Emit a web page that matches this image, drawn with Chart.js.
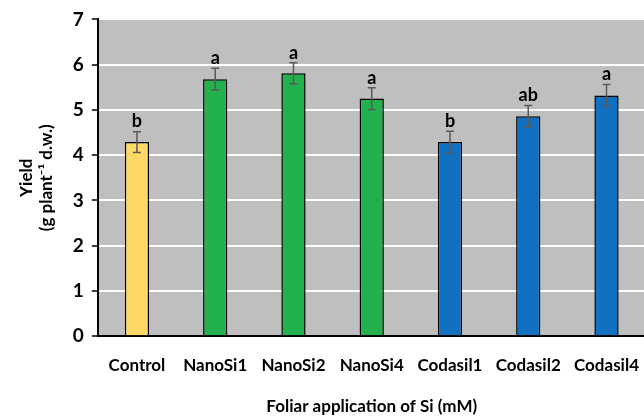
<!DOCTYPE html>
<html>
<head>
<meta charset="utf-8">
<script src="https://cdn.jsdelivr.net/npm/chart.js@4.4.0/dist/chart.umd.min.js"></script>
<style>
  html, body { margin: 0; padding: 0; background: #fff; overflow: hidden; }
  #wrap { width: 658px; height: 419px; }
</style>
</head>
<body>
<div id="wrap"><canvas id="chart"></canvas></div>
<script>
// data
const treatments = ['Control', 'NanoSi1', 'NanoSi2', 'NanoSi4', 'Codasil1', 'Codasil2', 'Codasil4'];
const yieldValues = [4.29, 5.68, 5.81, 5.25, 4.29, 4.86, 5.32];
const yieldErrors = [0.23, 0.24, 0.23, 0.24, 0.24, 0.24, 0.24];
const letters = ['b', 'a', 'a', 'a', 'b', 'ab', 'a'];
const barColors = ['#FFD966', '#22B14C', '#22B14C', '#22B14C', '#1170C0', '#1170C0', '#1170C0'];

const FONT = 'Lato, "Open Sans", sans-serif';

// gray plot background
const plotBg = {
    id: 'plotBg',
    beforeDraw(chart) {
        const { ctx, chartArea: a } = chart;
        ctx.save();
        ctx.fillStyle = '#BFBFBF';
        ctx.fillRect(a.left, a.top, a.right - a.left, a.bottom - a.top);
        ctx.restore();
    }
};

// error bars + significance letters
const errorBars = {
    id: 'errorBars',
    afterDatasetsDraw(chart) {
        const { ctx, scales } = chart;
        const meta = chart.getDatasetMeta(0);
        ctx.save();
        meta.data.forEach((bar, i) => {
            const x = bar.x;
            const yHi = scales.y.getPixelForValue(yieldValues[i] + yieldErrors[i]);
            const yLo = scales.y.getPixelForValue(yieldValues[i] - yieldErrors[i]);
            ctx.strokeStyle = '#595959';
            ctx.lineWidth = 1.5;
            ctx.beginPath();
            ctx.moveTo(x, yHi); ctx.lineTo(x, yLo);
            ctx.moveTo(x - 4, yHi); ctx.lineTo(x + 4, yHi);
            ctx.moveTo(x - 4, yLo); ctx.lineTo(x + 4, yLo);
            ctx.stroke();
            ctx.fillStyle = '#000';
            ctx.font = 'bold 18px ' + FONT;
            ctx.textAlign = 'center';
            ctx.textBaseline = 'bottom';
            ctx.fillText(letters[i], x, yHi - 1);
        });
        ctx.restore();
    }
};

new Chart(document.getElementById('chart'), {
    type: 'bar',
    data: {
        labels: treatments,
        datasets: [{
            data: yieldValues,
            backgroundColor: barColors,
            borderColor: '#000',
            borderWidth: 1.5,
            categoryPercentage: 1,
            barPercentage: 0.31
        }]
    },
    options: {
        responsive: true,
        maintainAspectRatio: false,
        animation: false,
        layout: { padding: { top: 16, right: 0, left: 16, bottom: 0 } },
        plugins: {
            legend: { display: false },
            tooltip: { enabled: false }
        },
        scales: {
            x: {
                grid: { display: false, drawTicks: false },
                border: { color: '#000', width: 2 },
                ticks: {
                    color: '#000',
                    padding: 19,
                    maxRotation: 0,
                    autoSkip: false,
                    font: { family: FONT, size: 17, weight: 'bold' }
                },
                title: {
                    display: true,
                    text: 'Foliar application of Si (mM)',
                    color: '#000',
                    padding: { top: 2, bottom: 2 },
                    font: { family: FONT, size: 17, weight: 'bold' }
                }
            },
            y: {
                min: 0,
                max: 7,
                ticks: {
                    stepSize: 1,
                    color: '#000',
                    padding: 8,
                    font: { family: FONT, size: 19, weight: 'bold' }
                },
                grid: {
                    color: '#FFFFFF',
                    lineWidth: 2,
                    tickColor: '#000',
                    tickLength: 6,
                    tickWidth: 1.5
                },
                border: { color: '#000', width: 2 },
                title: {
                    display: true,
                    text: ['Yield', '(g plant\u207B\u00B9 d.w.)'],
                    color: '#000',
                    padding: { top: 0, bottom: 8 },
                    font: { family: FONT, size: 17, weight: 'bold', lineHeight: 1.2 }
                }
            }
        }
    },
    plugins: [plotBg, errorBars]
});
</script>
</body>
</html>
